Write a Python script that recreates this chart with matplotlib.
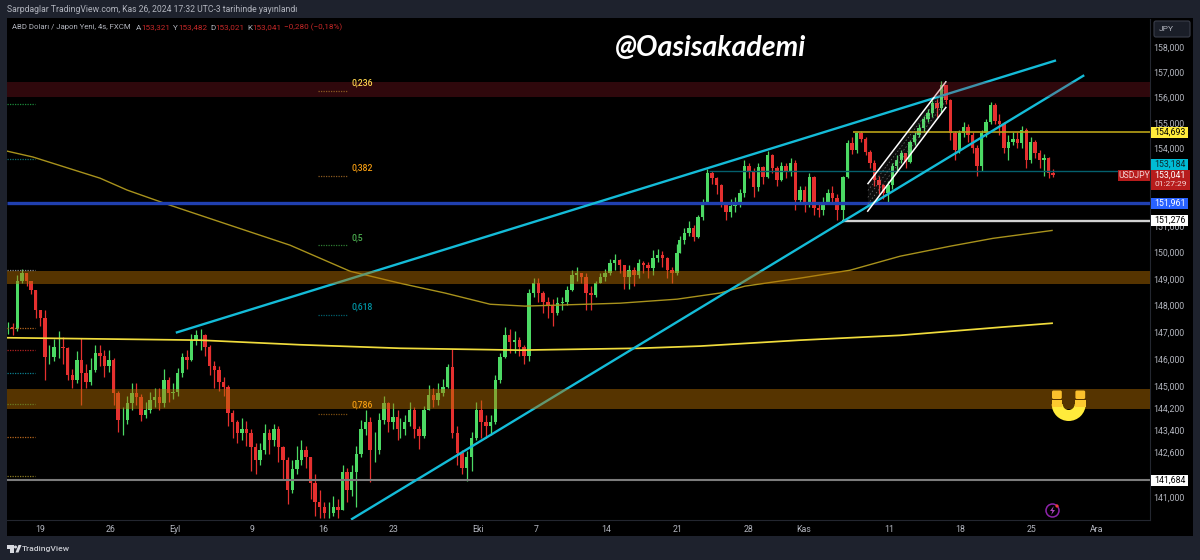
import numpy as np
import matplotlib
matplotlib.use('Agg')
import matplotlib.pyplot as plt
from matplotlib.patches import Rectangle, Wedge, Circle, FancyBboxPatch, Polygon
from matplotlib.ticker import NullLocator
from matplotlib.transforms import ScaledTranslation

plt.rcParams['font.family'] = ['Roboto', 'DejaVu Sans']

# candles are grouped in stretches, each spread evenly between its first and last bar
close_aug = [147.25,147.2,149.0,149.27,149.0,148.65,147.9,147.6,146.15,146.15,
             146.5,146.5,146.48,145.5,145.3,146.05,145.55,145.22,145.68,146.3,
             146.2,145.8,146.05,144.83,143.85,143.85,144.45,144.83,144.68,144.02,
             144.2,144.57,144.68,144.45,145.3,144.83,144.87,145.55,146.15,146.05,
             146.78,146.95,146.95,146.5,145.8,145.68,145.22,145.05,144.1,143.75,
             143.38,143.5,143.38,142.87,142.4,142.75,143.38,143.12,143.5,142.87,
             142.4,141.3,142.05,142.4,142.75,142.5,141.55,140.9,140.7,140.5,
             140.5,140.7,140.6,141.95,141.3,141.95,142.6,143.5,143.75,142.75,
             142.75,143.85,144.45,143.75,143.95,143.5]
high_aug = [147.45,147.4,149.2,149.45,149.3,149.0,148.3,147.9,147.9,146.6,
            146.8,147.1,146.9,146.5,145.7,146.35,146.85,145.9,146.1,146.6,
            146.6,146.4,146.4,146.1,144.9,144.3,144.7,145.2,145.2,144.8,
            144.5,144.85,145.0,145.0,145.7,145.4,145.2,145.75,146.3,146.4,
            147.0,147.15,147.2,147.0,146.6,146.0,145.8,145.4,145.1,144.2,
            143.85,143.9,143.8,143.5,143.0,143.0,143.7,143.5,143.7,143.6,
            142.9,142.5,142.4,142.9,143.1,142.9,142.5,141.9,141.3,140.9,
            140.9,141.1,141.0,142.2,142.1,142.2,142.9,143.85,144.2,143.95,
            143.4,144.1,144.7,144.5,144.45,144.2]
low_aug = [147.0,146.95,147.1,148.9,148.8,148.5,147.6,147.3,145.3,145.9,
           146.0,146.1,145.9,145.3,145.0,145.2,144.4,145.0,145.1,145.6,
           145.8,145.4,145.6,144.4,143.4,143.3,143.7,144.2,144.4,143.8,
           143.9,144.1,144.3,144.2,144.3,144.5,144.6,144.7,145.4,145.7,
           146.0,146.6,146.4,146.2,145.5,145.0,144.9,144.7,143.6,143.2,
           143.0,143.1,142.9,142.0,141.9,142.2,142.6,142.6,142.9,142.3,
           141.7,140.8,141.2,141.9,142.2,142.1,141.0,140.4,140.3,140.3,
           140.3,140.4,140.3,140.6,140.9,141.1,140.7,142.5,143.3,141.6,
           142.3,142.6,143.7,143.4,143.5,143.1]

close_oct = [143.5,143.75,144.2,143.5,143.25,144.2,144.75,144.57,144.83,145.05,
             145.77,143.38,142.65,142.1,142.5,143.2,144.2,143.75,143.6,143.75,
             145.3,146.15,146.95,146.7,146.78,146.5,146.2,148.55,148.9,148.55,
             148.2,148.08,147.78,148.15,148.2,148.65,149.2,149.28,149.13,148.55,
             148.45,148.9,149.13,149.28,149.65,149.77,149.58,149.13,149.4,149.2,
             149.65,149.58,149.47,149.85,149.97,149.85,149.4,149.28,150.05]
high_oct = [143.9,144.0,144.5,144.3,143.6,144.35,145.1,145.0,145.2,145.35,
            145.9,146.45,143.6,142.75,142.7,143.4,144.5,144.55,144.0,144.0,
            145.5,146.3,147.25,147.2,147.1,146.9,146.6,148.7,149.1,149.1,
            148.6,148.4,148.3,148.4,148.4,148.8,149.4,149.5,149.3,149.3,
            148.8,149.0,149.3,149.45,149.8,150.0,149.8,149.6,149.6,149.5,
            149.8,149.75,149.7,150.15,150.2,150.1,149.9,149.5,150.4]
low_oct = [143.2,143.3,143.6,143.2,142.8,143.2,144.2,144.3,144.4,144.7,
           145.0,143.2,142.2,141.9,141.65,142.0,143.1,143.2,143.2,143.3,
           143.7,145.2,146.1,146.3,146.3,146.2,145.9,146.0,148.4,148.2,
           147.8,147.6,147.3,147.7,147.9,148.1,148.6,149.0,148.9,147.9,
           147.9,148.4,148.9,149.0,149.2,149.4,149.3,148.7,148.7,148.8,
           149.1,149.3,149.1,149.2,149.7,149.5,149.1,148.9,149.2]

close_late = [150.53,150.8,151,150.65,151.4,151.93,153.1,152.9,152.63,151.98,
              151.6,151.85,151.93,152.33,153.4,153.15,152.55,153.33,152.95,153.8,
              153.3,152.83,153.4,153.15,153.5,152.05,152.45,151.93,152.95,151.75,
              151.68,151.98,152.33,152.15,151.68]
high_late = [150.7,151.0,151.25,151.1,151.5,152.1,153.25,153.2,152.95,152.7,
             152.0,152.1,152.2,152.5,153.6,153.5,153.3,153.5,153.4,153.95,
             153.85,153.4,153.55,153.5,153.7,153.6,152.6,152.6,153.1,153.0,
             152.0,152.2,152.5,152.6,152.3]
low_late = [150.3,150.4,150.7,150.5,150.6,151.3,151.9,152.7,152.3,151.8,
            151.3,151.4,151.6,151.8,152.2,152.9,152.2,152.4,152.7,152.9,
            153.1,152.6,152.8,152.9,153.0,151.7,151.9,151.6,151.8,151.5,
            151.4,151.5,151.9,151.9,151.3]

close_nov = [152.95,154.27,154,154.65,154.45,153.92,153.5,152.83,152.63,152.33,
             152.63,153.4,153.6,153.87,153.53,154.3,154.57,154.85,155.23,155.46,
             155.85,155.65,156.55,155.95,154.65,154,154.65,154.9,154.57,154.1,
             153.4,154.65,155.08,155.75,155.15,155.03,154.1,154.3,154.45,154.27,
             154.77,153.6,154.3,153.87,153.6,153.68,153.1,153.04]
high_nov = [153.0,154.4,154.5,154.7,154.75,154.5,154.0,153.6,153.0,152.7,
            152.8,153.5,153.8,154.0,153.9,154.4,154.7,155.0,155.35,155.6,
            155.95,156.0,156.72,156.5,156.0,154.75,154.8,155.1,155.0,154.7,
            154.2,154.8,155.2,155.9,155.85,155.4,155.1,154.6,154.7,154.7,
            154.95,154.85,154.5,154.4,154.0,153.85,153.75,153.25]
low_nov = [151.28,152.9,153.85,153.9,154.3,153.8,153.3,152.6,152.3,152.1,
           152.0,152.5,153.2,153.5,153.3,153.5,154.2,154.5,154.7,155.1,
           155.3,155.3,155.5,155.8,154.4,153.6,153.9,154.5,154.3,153.9,
           153.0,153.2,154.5,155.0,155.0,154.6,153.9,153.6,154.2,154.1,
           154.1,153.3,153.5,153.7,153.3,153.0,152.9,152.95]

# first and last bar number of each stretch (4h bars, 0 = the "19" tick)
stretch_ends = [(-13.5, 151.5), (152.5, 269.8), (271, 337.7), (340.3, 429.2)]

# moving averages
slow_x = [-14,-3,25.4,36.9,55,80.5,105.9,131.4,152.5,171.6,190.7,205.5,220.3,245.8,269.9,288.1,298.7,322,343.2,364.4,385.6,403.8,428.8]
slow_y = [153.96,153.73,152.91,152.45,151.87,151.1,150.34,149.35,148.9,148.53,148.11,148.04,148.08,148.15,148.3,148.53,148.79,149.09,149.39,149.92,150.3,150.6,150.9]
long_x = [-14,67.8,110,152.5,203.4,254,279.7,322,364.4,406.8,428.8]
long_y = [146.86,146.77,146.6,146.47,146.4,146.47,146.55,146.77,146.95,147.25,147.4]

# drawn tools
trend_lines = [((58, 147.06), (430, 157.52)), ((132.2, 140.28), (442, 156.92))]
channel_top = ((350.8, 152.7), (383.8, 156.68))
channel_bot = ((350.7, 151.64), (383.8, 155.67))
zones = [(156.08, 156.67, '#b02030', 0.27), (148.88, 149.35, '#b87000', 0.47), (144.24, 144.97, '#b87000', 0.47)]
levels = [(-14, 141.684, '#7c7c7c', 1.5), (-14, 151.961, '#2040b0', 2.4), (344.5, 154.693, '#b9a318', 1.2),
          (340, 151.276, '#d2d2d2', 1.7), (283.5, 153.184, '#045f6c', 1.0)]

price_ticks = [158,157,156,155,154,151,150,149,148,147,146,145,144.2,143.4,142.6,141,]
price_text = ['158,000','157,000','156,000','155,000','154,000','151,000','150,000','149,000','148,000','147,000','146,000','145,000','144,200','143,400','142,600','141,000']
date_ticks = [0,30,57,90,120,150,185.6,210,240,270,300,323.7,360,390,420,447.5]
date_text = ['19','26','Eyl','9','16','23','Eki','7','14','21','28','Kas','11','18','25','Ara']

fib_text = ['0,236','0,382','0,5','0,618','0,786']
fib_y = [83,168,238,307,405]
fib_line_y = [91,176,245,315,414]
fib_color = ['#ffd54f','#f39c12','#4caf50','#0097a7','#f39c12']
fib_line_color = ['#8a5a20','#8a5a20','#2e7d32','#00606e','#7a4d10']
left_y = [104,159,270,328,350,373,404,437,476]
left_color = ['#1b8a3a','#0b6f6f','#8a8a8a','#b5651d','#b02020','#0b7f8f','#6a7a20','#b5651d','#8a7a20']

BG = '#1e222d'
UP = '#4cd964'
DOWN = '#e5302f'
CYAN = '#14bcd8'
GREY = '#b2b5be'

fig = plt.figure(figsize=(12, 5.6), dpi=100, facecolor=BG)

# pixel canvas behind the chart
back = fig.add_axes([0, 0, 1, 1], zorder=0)
back.set_xlim(0, 1200); back.set_ylim(560, 0); back.axis('off')
back.add_patch(Rectangle((7, 18), 1186, 518, fc='black', ec='none'))

ax = fig.add_axes([7/1200, 1-519.8/560, 1143/1200, 501/560], zorder=2)
ax.set_facecolor('black')
ax.set_yscale('log')
ax.set_xlim(-14, 470.3)
ax.set_ylim(140.25, 159.2)

opens_prev = close_aug[0]
stretches = [(close_aug, high_aug, low_aug), (close_oct, high_oct, low_oct),
             (close_late, high_late, low_late), (close_nov, high_nov, low_nov)]
for (first, last), (cl, hi, lo) in zip(stretch_ends, stretches):
    x = np.linspace(first, last, len(cl))
    cl = np.array(cl)
    op = np.r_[opens_prev, cl[:-1]]
    opens_prev = cl[-1]
    hi = np.maximum(np.maximum(hi, op), cl)
    lo = np.minimum(np.minimum(lo, op), cl)
    colors = [UP if c >= o else DOWN for o, c in zip(op, cl)]
    ax.vlines(x, lo, hi, colors=colors, lw=0.9, zorder=2)
    ax.bar(x, np.abs(cl-op), bottom=np.minimum(op, cl), width=1.45, color=colors, lw=0, zorder=2.2)

ax.plot(slow_x, slow_y, color='#a8921c', lw=1.0, zorder=3)
ax.plot(long_x, long_y, color='#f0dc3c', lw=1.25, zorder=3)

for x0, y0, col, lw in levels:
    ax.plot([x0, 470.3], [y0, y0], color=col, lw=lw, zorder=3.2, solid_capstyle='butt')

for a, b in trend_lines:
    ax.plot([a[0], b[0]], [a[1], b[1]], color=CYAN, lw=1.7, zorder=3.5)

# white channel with its inner dashed levels
ax.fill([channel_top[0][0], channel_top[1][0], channel_bot[1][0], channel_bot[0][0]],
        [channel_top[0][1], channel_top[1][1], channel_bot[1][1], channel_bot[0][1]],
        color='white', alpha=0.05, lw=0, zorder=3.3)
for f in [0.25, 0.5, 0.75]:
    xs = [channel_bot[i][0] + f*(channel_top[i][0]-channel_bot[i][0]) for i in (0, 1)]
    ys = [channel_bot[i][1]**(1-f) * channel_top[i][1]**f for i in (0, 1)]
    ax.plot(xs, ys, color='#7a7a7a', lw=0.5, ls=(0, (2, 3)), zorder=3.4)
for a, b in (channel_top, channel_bot):
    ax.plot([a[0], b[0]], [a[1], b[1]], color='white', lw=1.1, zorder=3.6)

# the zones sit over everything and tint what is under them
for lo_z, hi_z, col, al in zones:
    ax.axhspan(lo_z, hi_z, color=col, alpha=al, lw=0, zorder=4)

ax.yaxis.tick_right()
ax.yaxis.set_minor_locator(NullLocator())
ax.set_yticks(price_ticks)
ax.set_yticklabels(price_text, color=GREY, fontsize=6.3)
ax.set_xticks(date_ticks)
ax.set_xticklabels(date_text, color=GREY, fontsize=6.3)
ax.tick_params(axis='both', length=0)
ax.tick_params(axis='y', pad=2.5)
ax.tick_params(axis='x', pad=3.5)
# labels sit a little above their grid position
lift = ScaledTranslation(0, 1.5/100, fig.dpi_scale_trans)
for lab in ax.get_yticklabels():
    lab.set_transform(lab.get_transform() + lift)
for s in ax.spines.values():
    s.set_visible(False)
ax.spines['right'].set_visible(True)
ax.spines['bottom'].set_visible(True)
ax.spines['right'].set_color('#23262f')
ax.spines['bottom'].set_color('#23262f')

# pixel canvas above the chart: labels, price tags, icons
top = fig.add_axes([0, 0, 1, 1], zorder=5)
top.set_xlim(0, 1200); top.set_ylim(560, 0); top.axis('off')
top.patch.set_alpha(0)

top.text(7, 10, 'Sarpdaglar TradingView.com, Kas 26, 2024 17:32 UTC-3 tarihinde yayınlandı',
         color=GREY, fontsize=6.25, va='center', ha='left')
top.text(12, 27.5, 'ABD Doları / Japon Yeni, 4s, FXCM', color=GREY, fontsize=5.6, va='center')
for lx, lab, vx, val in [(136, 'A', 141.5, '153,321'), (173, 'Y', 178.5, '153,482'),
                         (210, 'D', 215.5, '153,021'), (247, 'K', 252.5, '153,041')]:
    top.text(lx, 27.5, lab, color=GREY, fontsize=5.9, va='center')
    top.text(vx, 27.5, val, color='#c62828', fontsize=5.9, va='center')
top.text(284.5, 27.5, '−0,280 (−0,18%)', color='#c62828', fontsize=5.9, va='center')

top.text(615, 48, '@Oasisakademi', color='white', fontsize=20.5, fontweight='bold', fontstyle='italic',
         family=['Lato', 'DejaVu Sans'], va='center', ha='left')

for t, ty, ly, c, lc in zip(fib_text, fib_y, fib_line_y, fib_color, fib_line_color):
    top.text(352, ty, t, color=c, fontsize=6.2, fontweight='medium', va='center', ha='left', zorder=3)
    top.plot([318, 347], [ly, ly], color=lc, lw=0.9, ls=(0, (1, 1)))
for ly, c in zip(left_y, left_color):
    top.plot([7, 35], [ly, ly], color=c, lw=0.9, ls=(0, (1, 1)))

# price tags on the right axis
tags = [(127, '154,693', '#ffeb3b', 'black'), (159, '153,184', '#00bcd4', '#0c2a30'),
        (198, '151,961', '#2962ff', 'white'), (215, '151,276', 'white', 'black'),
        (474.5, '141,684', 'white', 'black')]
for ty, txt, fc, tc in tags:
    top.add_patch(Rectangle((1151, ty), 36.5, 11, fc=fc, ec='none'))
    top.text(1169.5, ty+5.6, txt, color=tc, fontsize=6.3, va='center', ha='center')
top.add_patch(Rectangle((1118, 170), 32, 11, fc='#b71c1c', ec='none'))
top.text(1134, 175.6, 'USDJPY', color='#f4d6d6', fontsize=6.2, va='center', ha='center')
top.add_patch(Rectangle((1151, 170), 39, 20, fc='#b71c1c', ec='none'))
top.text(1170, 175.3, '153,041', color='white', fontsize=6.3, va='center', ha='center')
top.text(1171, 184.5, '01:27:29', color='#f4d6d6', fontsize=6.0, va='center', ha='center')

top.add_patch(FancyBboxPatch((1154, 21), 36, 16, boxstyle='round,pad=0,rounding_size=2', fc='#1a1e28', ec='#3a3e4a', lw=0.8))
top.text(1159, 29, 'JPY', color=GREY, fontsize=6.0, va='center', ha='left')

# magnet
top.add_patch(Wedge((1068.7, 404), 17, 0, 180, width=11, fc='#ffeb3b', ec='none'))
top.add_patch(Rectangle((1051.7, 400), 10.3, 6.5, fc='#fdc92f', ec='none'))
top.add_patch(Rectangle((1075.2, 400), 10.5, 6.5, fc='#fdc92f', ec='none'))
top.add_patch(FancyBboxPatch((1052, 390.5), 9.8, 8.5, boxstyle='round,pad=0,rounding_size=1.5', fc='#fbc02d', ec='none'))
top.add_patch(FancyBboxPatch((1075.4, 390.5), 9.8, 8.5, boxstyle='round,pad=0,rounding_size=1.5', fc='#fbc02d', ec='none'))

# lightning badge
top.add_patch(Circle((1052.5, 510.5), 6.5, fc='none', ec='#8e24aa', lw=1.1))
top.add_patch(Polygon([(1053.8, 506), (1050, 511), (1052.4, 511), (1051.2, 515), (1055, 510), (1052.6, 510)], fc='#ab47bc', ec='none'))
top.add_patch(Circle((1057, 506), 1.6, fc='#ef3b3b', ec='none'))

# footer logo
top.add_patch(Polygon([(7, 545), (13.5, 545), (13.5, 552.5), (10, 552.5), (10, 548.5), (7, 548.5)], fc='#d8dae0', ec='none'))
top.add_patch(Circle((15.5, 547), 1.5, fc='#d8dae0', ec='none'))
top.add_patch(Polygon([(15.5, 552.5), (18.5, 545), (21.5, 545), (18.5, 552.5)], fc='#d8dae0', ec='none'))
top.text(22, 549, 'TradingView', color='#c8cad0', fontsize=6.1, fontweight='medium', va='center', ha='left')

fig.savefig('out.png', dpi=100, facecolor=BG)
